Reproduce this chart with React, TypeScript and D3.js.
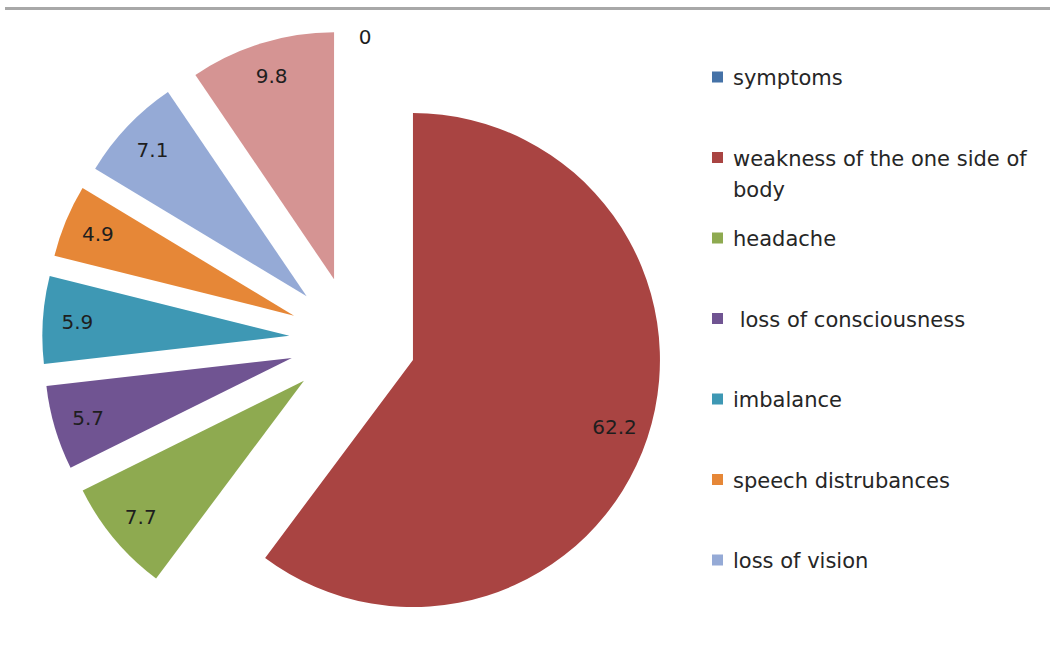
import React from "react";
import * as d3 from "d3";

const categories = [
  "symptoms",
  "weakness of the one side of body",
  "headache",
  " loss of consciousness",
  "imbalance",
  "speech distrubances",
  "loss of vision",
  "other",
];
const values = [0, 62.2, 7.7, 5.7, 5.9, 4.9, 7.1, 9.8];
const labels = ["0", "62.2", "7.7", "5.7", "5.9", "4.9", "7.1", "9.8"];
const colors = [
  "#4572A7",
  "#A94442",
  "#8EAA50",
  "#705492",
  "#3E98B4",
  "#E68737",
  "#95AAD6",
  "#D59493",
];
const legendLines = [
  ["symptoms"],
  ["weakness of the one side of", "body"],
  ["headache"],
  [" loss of consciousness"],
  ["imbalance"],
  ["speech distrubances"],
  ["loss of vision"],
];

const W = 1050;
const H = 653;

export default function App() {
  const cx = 352.7;
  const cy = 340;
  const r = 247;
  const explode = 63.5;
  const labelR = 0.86 * r;

  const pie = d3
    .pie<number>()
    .sort(null)
    .value((d) => d)
    .startAngle(0)
    .endAngle(2 * Math.PI);
  const arcs = pie(values);
  const arc = d3.arc<d3.PieArcDatum<number>>().innerRadius(0).outerRadius(r);

  const legendY = d3
    .scalePoint<number>()
    .domain(d3.range(legendLines.length))
    .range([77, 560]);

  return (
    <svg
      width={W}
      height={H}
      style={{ position: "absolute", left: 0, top: 0, background: "#fff" }}
    >
      <line x1={5} x2={W} y1={8.5} y2={8.5} stroke="#a8a8a8" strokeWidth={3} />
      <g transform={`translate(${cx},${cy})`}>
        {arcs.map((a, i) => {
          const mid = (a.startAngle + a.endAngle) / 2;
          const dx = Math.sin(mid) * explode;
          const dy = -Math.cos(mid) * explode;
          const isZero = a.value === 0;
          const lr = isZero ? r * 0.97 : labelR;
          const lx = dx + Math.sin(mid) * lr;
          const ly = dy - Math.cos(mid) * lr;
          return (
            <g key={i}>
              {!isZero && (
                <path
                  d={arc(a) || ""}
                  transform={`translate(${dx},${dy})`}
                  fill={colors[i]}
                />
              )}
              <text
                x={isZero ? lx + 6 : lx}
                y={ly}
                dy="0.36em"
                textAnchor={isZero ? "start" : "middle"}
                fontFamily="DejaVu Sans, sans-serif"
                fontSize={20}
                fill="#1e1e1e"
              >
                {labels[i]}
              </text>
            </g>
          );
        })}
      </g>
      <g>
        {legendLines.map((lines, i) => {
          const y = legendY(i) as number;
          return (
            <g key={i}>
              <rect x={712} y={y - 5.5} width={11} height={11} fill={colors[i]} />
              <text
                x={733}
                y={y + 8}
                fontFamily="DejaVu Sans, sans-serif"
                fontSize={21}
                fill="#262626"
                style={{ whiteSpace: "pre" }}
              >
                {lines.map((t, j) => (
                  <tspan key={j} x={733} dy={j === 0 ? 0 : 31}>
                    {t}
                  </tspan>
                ))}
              </text>
            </g>
          );
        })}
      </g>
    </svg>
  );
}
